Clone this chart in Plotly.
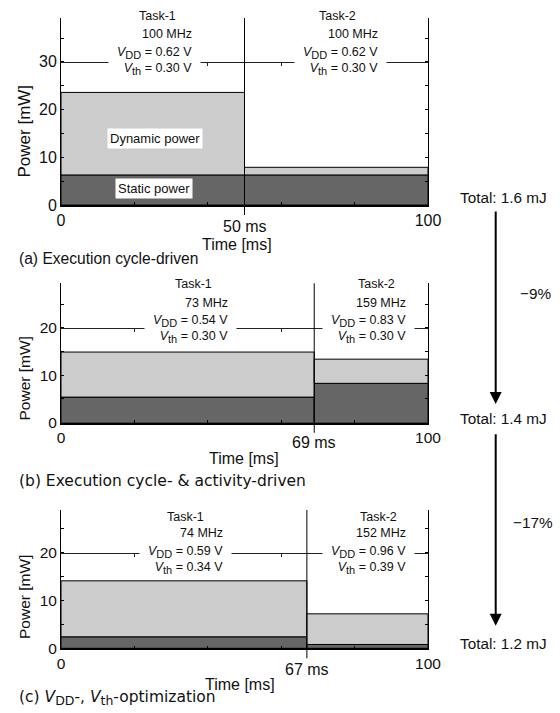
import plotly.graph_objects as go

W, H = 560, 713

# ---------------- data ----------------
end_ms = 100
split_ms = [50, 69, 67]                       # Task-1 / Task-2 boundary [ms]
static_mw = [[6.3, 6.3], [5.4, 8.3], [2.4, 0.8]]
total_mw = [[23.6, 7.9], [14.9, 13.4], [14.1, 7.2]]
freq_mhz = [["100", "100"], ["73", "159"], ["74", "152"]]
vdd_v = [["0.62", "0.62"], ["0.54", "0.83"], ["0.59", "0.96"]]
vth_v = [["0.30", "0.30"], ["0.30", "0.30"], ["0.34", "0.39"]]
task_names = ["Task-1", "Task-2"]
total_mj = ["1.6", "1.4", "1.2"]
reduction = ["\u22129%", "\u221217%"]
y_max = [39.2, 29.4, 28.9]
ref_level = [30, 20, 20]
x_tick_vals = [0, 20, 40, 60, 80, 100]
x_tick_text = ["0", "", "", "", "", "100"]


def sub(s, size):
    return f'<sub><span style="font-size:{size}px">{s}</span></sub>'


captions = [
    "(a) Execution cycle-driven",
    "(b) Execution cycle- &amp; activity-driven",
    f"(c) <i>V</i>{sub('DD', 12.5)}-, <i>V</i>{sub('th', 12.5)}-optimization",
]

# ---------------- style / layout ----------------
STATIC = "#666666"
DYNAMIC = "#cccccc"
INK = "#111111"
SANS = "Liberation Sans"
DEJAVU = "DejaVu Sans"

def px(x):
    return x / W

def py(y):
    return 1 - y / H

X0, X1 = 61, 428
panel_px = [(18, 205), (283.3, 422.7), (510, 648.3)]   # top, bottom (pixels)
tick_font = [16, 15.5, 15.5]
ytitle_font = [17, 15.5, 15.5]

# label placements (pixels)
task_cx = [[157, 337], [193, 376.7], [185, 378]]
param_rx = [[194, 380], [230, 408], [225, 408]]
task_y = [16, 284, 516.7]
mhz_y = [34, 302.7, 533]
volt_y = [61, 329, 560]
ytitle_y = [131, 379, 597.5]
xtitle_pos = [(237, 244), (244, 458), (240, 684)]
split_label_y = [226, 443, 669]
caption_y = [258, 481, 698]
caption_font = [(SANS, 15.6), (DEJAVU, 15.5), (DEJAVU, 15.5)]
total_y = [198, 418, 643]
arrow_px = [(210, 404), (432.7, 625.7)]
pct_pos = [(535, 293), (533, 522.7)]

fig = go.Figure()
annotations = []
shapes = []
layout_axes = {}


def label(x, y, text, size, family=SANS, xanchor="center", **kw):
    d = dict(x=px(x), y=py(y), xref="paper", yref="paper", text=text, showarrow=False,
             xanchor=xanchor, yanchor="middle", font=dict(family=family, size=size, color=INK))
    d.update(kw)
    annotations.append(d)


for i in range(3):
    n = "" if i == 0 else str(i + 1)
    xa, ya = "x" + n, "y" + n
    top, bot = panel_px[i]
    t = split_ms[i]
    xs = [t / 2, (t + end_ms) / 2]
    ws = [t, end_ms - t]
    dyn = [tot - s for tot, s in zip(total_mw[i], static_mw[i])]
    fig.add_trace(go.Bar(x=xs, y=static_mw[i], width=ws, base=[0, 0],
                         marker=dict(color=STATIC, line=dict(color="black", width=1)),
                         xaxis=xa, yaxis=ya, showlegend=False, hoverinfo="skip"))
    fig.add_trace(go.Bar(x=xs, y=dyn, width=ws, base=static_mw[i],
                         marker=dict(color=DYNAMIC, line=dict(color="black", width=1)),
                         xaxis=xa, yaxis=ya, showlegend=False, hoverinfo="skip"))

    yvals = [v for v in range(0, 40, 5) if v <= y_max[i]]
    ytext = [str(v) if v % 10 == 0 else "" for v in yvals]
    layout_axes["xaxis" + n] = dict(
        domain=[px(X0), px(X1)], range=[0, end_ms], anchor=ya, automargin=False,
        tickmode="array", tickvals=x_tick_vals, ticktext=x_tick_text,
        ticks="inside", ticklen=3, tickcolor="black", tickwidth=1,
        showline=True, linecolor="black", linewidth=1.5, mirror=False,
        showgrid=False, zeroline=False, fixedrange=True,
        tickfont=dict(family=SANS, size=tick_font[i], color=INK),
        ticklabelstandoff=0,
    )
    layout_axes["yaxis" + n] = dict(
        domain=[py(bot), py(top)], range=[0, y_max[i]], anchor=xa, automargin=False,
        tickmode="array", tickvals=yvals, ticktext=ytext,
        ticks="inside", ticklen=3, tickcolor="black", tickwidth=1,
        showline=True, linecolor="black", linewidth=1, mirror="ticks",
        showgrid=False, zeroline=False, fixedrange=True,
        tickfont=dict(family=SANS, size=tick_font[i], color=INK),
    )
    # reference level line (acts as a secondary axis with small ticks)
    ov = "xaxis" + str(4 + i)
    d0, d1 = py(bot), py(top)
    layout_axes[ov] = dict(
        overlaying=xa, anchor="free", automargin=False,
        position=d0 + ref_level[i] / y_max[i] * (d1 - d0),
        range=[0, end_ms], tickmode="array", tickvals=[20, 40, 60, 80],
        ticks="outside", ticklen=3, tickcolor="#222", showticklabels=False,
        showline=True, linecolor="#222", linewidth=1, showgrid=False,
        zeroline=False, fixedrange=True,
    )
    fig.add_trace(go.Scatter(x=[None], y=[None], xaxis="x" + str(4 + i), yaxis=ya,
                             showlegend=False, hoverinfo="skip"))

    # split line
    ext = 10 / (bot - top)
    shapes.append(dict(type="line", xref=xa, yref=ya + " domain", x0=t, x1=t,
                       y0=-ext, y1=1, line=dict(color="black", width=1), layer="above"))
    annotations.append(dict(x=t, xref=xa, y=py(split_label_y[i]), yref="paper",
                            text=f"{t} ms", showarrow=False, xanchor="center", yanchor="middle",
                            font=dict(family=SANS, size=16, color=INK)))

    # task labels
    for k in range(2):
        label(task_cx[i][k], task_y[i], task_names[k], 12.5)
        label(param_rx[i][k], mhz_y[i], f"{freq_mhz[i][k]} MHz", 12.5, xanchor="right")
        pad = "\u00a0\u00a0"
        label(param_rx[i][k] + 7, volt_y[i],
              (f"{pad}<i>V</i>{sub('DD', 11)} = {vdd_v[i][k]} V{pad}<br>"
               f"{pad}<i>V</i>{sub('th', 11)} = {vth_v[i][k]} V{pad}"),
              12.5, xanchor="right", align="right", bgcolor="white", borderpad=1)

    # axis titles
    label(24.5, ytitle_y[i], "Power [mW]", ytitle_font[i], textangle=-90)
    label(xtitle_pos[i][0], xtitle_pos[i][1], "Time [ms]", 16)
    fam, sz = caption_font[i]
    label(17, caption_y[i], captions[i], sz, family=fam, xanchor="left")
    # totals
    label(503.5, total_y[i], f"Total: {total_mj[i]} mJ", 15.3)

# labels in panel (a)
label(154.5, 138, "Dynamic power", 13, bgcolor="white", borderpad=2)
label(153.5, 188, "Static power", 13, bgcolor="white", borderpad=2)

# arrows and reductions
for j in range(2):
    y0, y1 = arrow_px[j]
    annotations.append(dict(x=px(495.7), y=py(y1), ax=0, ay=-(y1 - y0),
                            xref="paper", yref="paper", axref="pixel", ayref="pixel",
                            text="", showarrow=True, arrowhead=2, arrowsize=1.2,
                            arrowwidth=2, arrowcolor="black", standoff=0, startstandoff=0))
    label(pct_pos[j][0], pct_pos[j][1], reduction[j], 15.3)

fig.update_layout(
    template="none",
    width=W, height=H, margin=dict(l=0, r=0, t=0, b=0, pad=0),
    paper_bgcolor="white", plot_bgcolor="rgba(0,0,0,0)",
    font=dict(family=SANS, color=INK),
    barmode="overlay", showlegend=False,
    annotations=annotations, shapes=shapes,
    **layout_axes,
)

fig.write_html("out.html", config={"displayModeBar": False},
               post_script="document.body.style.margin='0';document.body.style.padding='0';")
